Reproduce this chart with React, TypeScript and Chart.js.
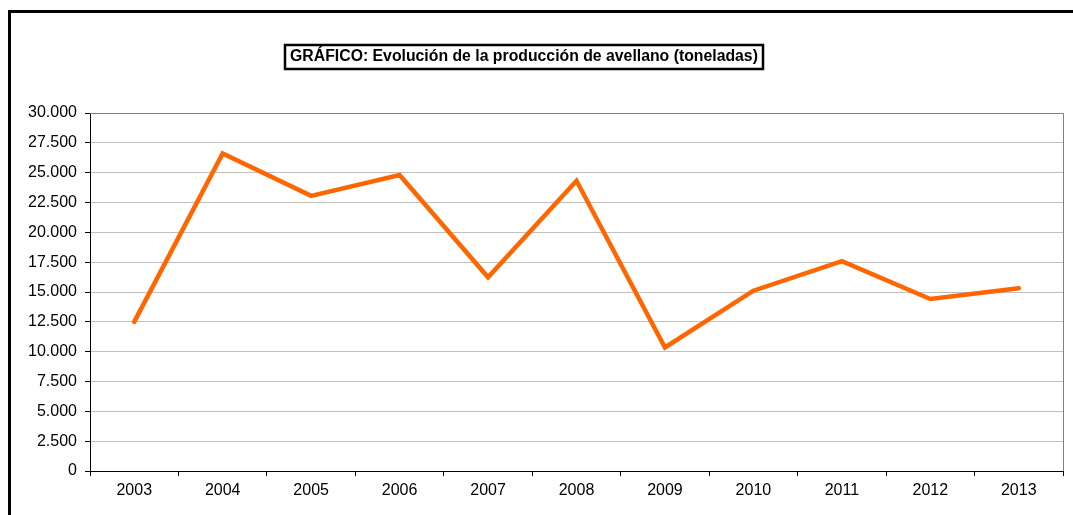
import React, { useEffect, useRef } from "react";
import { Chart, registerables } from "chart.js";

Chart.register(...registerables);

const years = ["2003", "2004", "2005", "2006", "2007", "2008", "2009", "2010", "2011", "2012", "2013"];
const production = [12500, 26600, 23060, 24800, 16230, 24320, 10350, 15110, 17580, 14410, 15310];
const titleText = "GRÁFICO: Evolución de la producción de avellano (toneladas)";

const formatThousands = (v: number) => {
  const s = Math.round(v).toString();
  return s.replace(/\B(?=(\d{3})+(?!\d))/g, ".");
};

const framePlugin = {
  id: "frame",
  beforeDraw(chart: any) {
    const ctx = chart.ctx;
    ctx.save();
    ctx.fillStyle = "#ffffff";
    ctx.fillRect(0, 0, chart.width, chart.height);
    // outer border (left and top)
    ctx.strokeStyle = "#000000";
    ctx.lineWidth = 3;
    ctx.beginPath();
    ctx.moveTo(9.5, chart.height + 2);
    ctx.lineTo(9.5, 11.5);
    ctx.lineTo(chart.width + 2, 11.5);
    ctx.stroke();
    // title with box
    ctx.font = "bold 15.8px 'Liberation Sans', Arial, sans-serif";
    ctx.fillStyle = "#000000";
    ctx.textAlign = "center";
    ctx.textBaseline = "middle";
    const cx = 524;
    const cy = 57;
    const w = ctx.measureText(titleText).width;
    ctx.fillText(titleText, cx, cy);
    ctx.lineWidth = 2.5;
    ctx.strokeRect(Math.round(cx - w / 2 - 5), 45, Math.round(w + 10), 24);
    ctx.restore();
  },
  beforeDatasetsDraw(chart: any) {
    const { ctx, chartArea } = chart;
    ctx.save();
    ctx.strokeStyle = "#808080";
    ctx.lineWidth = 1;
    ctx.beginPath();
    ctx.moveTo(chartArea.left, Math.round(chartArea.top) + 0.5);
    ctx.lineTo(Math.round(chartArea.right) + 0.5, Math.round(chartArea.top) + 0.5);
    ctx.lineTo(Math.round(chartArea.right) + 0.5, chartArea.bottom);
    ctx.stroke();
    ctx.restore();
  },
};

export default function App() {
  const ref = useRef<HTMLCanvasElement | null>(null);
  useEffect(() => {
    document.body.style.margin = "0";
    const canvas = ref.current;
    if (!canvas) return;
    const font = { family: "'Liberation Sans', Arial, sans-serif", size: 16 };
    const chart = new Chart(canvas, {
      type: "line",
      data: {
        labels: years,
        datasets: [
          {
            data: production,
            borderColor: "#ff6600",
            borderWidth: 4.5,
            pointRadius: 0,
            tension: 0,
            fill: false,
            borderCapStyle: "round",
            borderJoinStyle: "miter",
          },
        ],
      },
      options: {
        responsive: false,
        animation: false,
        devicePixelRatio: 1,
        layout: { padding: { top: 113, right: 10, left: 0, bottom: 0 } },
        plugins: {
          legend: { display: false },
          title: { display: false },
          tooltip: { enabled: false },
        },
        scales: {
          x: {
            type: "category",
            offset: true,
            afterFit: (s: any) => {
              s.height = 44;
            },
            grid: {
              offset: true,
              drawOnChartArea: false,
              drawTicks: true,
              tickLength: 5,
              tickColor: "#000000",
            },
            border: { display: true, color: "#000000", width: 1 },
            ticks: {
              color: "#000000",
              font,
              padding: 5,
              maxRotation: 0,
              autoSkip: false,
            },
          },
          y: {
            min: 0,
            max: 30000,
            afterFit: (s: any) => {
              s.width = 90;
            },
            grid: {
              color: (c: any) => (c.tick && c.tick.value === 30000 ? "#808080" : "#c0c0c0"),
              lineWidth: 1,
              drawTicks: true,
              tickLength: 5,
              tickColor: "#000000",
            },
            border: { display: true, color: "#000000", width: 1 },
            ticks: {
              stepSize: 2500,
              color: "#000000",
              font,
              padding: 8,
              callback: (v: any) => formatThousands(Number(v)),
            },
          },
        },
      },
      plugins: [framePlugin],
    });
    return () => chart.destroy();
  }, []);
  return (
    <div style={{ position: "absolute", left: 0, top: 0, width: 1073, height: 515 }}>
      <canvas ref={ref} width={1073} height={515} style={{ width: 1073, height: 515, display: "block" }} />
    </div>
  );
}
